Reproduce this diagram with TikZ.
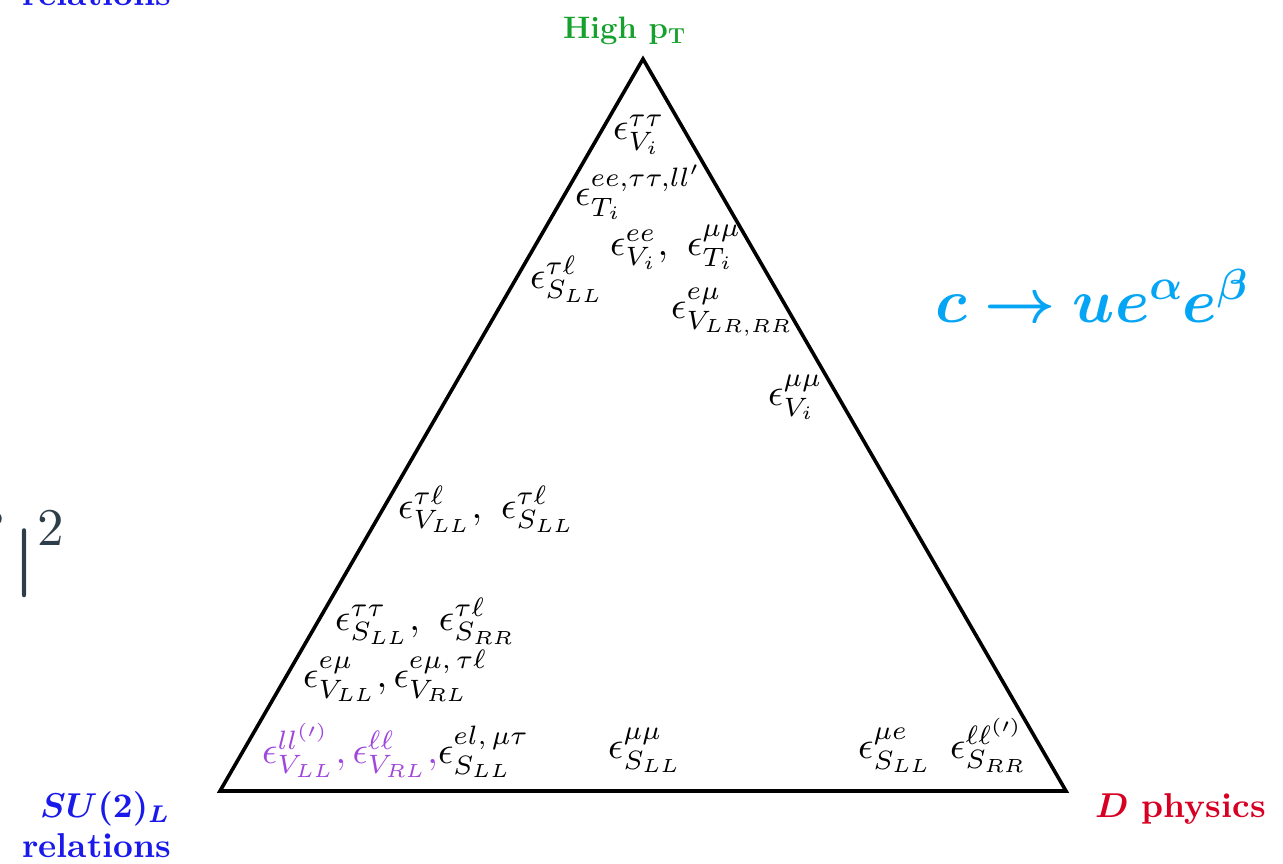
\RequirePackage{fix-cm}
\documentclass[tikz,border=0pt]{standalone}
\usepackage{amsmath,bm}
\definecolor{hgreen}{RGB}{22,160,45}
\definecolor{sublue}{RGB}{25,25,235}
\definecolor{dred}{RGB}{215,0,35}
\definecolor{cblue}{RGB}{5,165,245}
\definecolor{lpurple}{RGB}{160,70,220}
\definecolor{slate}{RGB}{45,62,72}
\newcommand{\lbx}[1]{\scalebox{3.8}{#1}}
\newcommand{\cbx}[1]{\scalebox{3.45}{#1}}
\tikzset{
  lab/.style={inner sep=0pt, anchor=base west},
  tri/.style={line width=3.6pt, line join=miter, draw=black},
  corner/.style={inner sep=0pt, font=\bfseries},
  frag/.style={inner sep=0pt, text=slate},
}
\begin{document}
\begin{tikzpicture}[x=1pt,y=-1pt]
\useasboundingbox (0,0) rectangle (1283,864);
\clip (0,0) rectangle (1283,864);
% triangle
\coordinate (T) at (643,59);
\coordinate (L) at (220,791);
\coordinate (R) at (1066,791);
\draw[tri] (T) -- (L) -- (R) -- cycle;
% corner labels
\node[corner, text=hgreen, anchor=base west, font=\fontsize{31}{36}\selectfont\bfseries] (hp) at (563,39) {High $\mathbf{p_T}$};
\node[corner, text=sublue, anchor=base west] (su) at (40,817) {\cbx{$\bm{SU(2)_L}$}};
\node[corner, text=sublue, anchor=base west] (rel) at (22,857) {\cbx{relations}};
\node[corner, text=sublue, anchor=base west] (relt) at (22,6) {\cbx{relations}};
\node[corner, text=dred, anchor=base east] (dp) at (1266,817) {\cbx{$\bm{D}$ physics}};
\node[inner sep=0pt, anchor=base west, text=cblue, font=\fontsize{62}{70}\selectfont] (proc) at (935,322) {$\bm{c\rightarrow u e^{\alpha} e^{\beta}}$};
% clipped fragment at the left edge
\node[frag, anchor=base west] (absbar) at (13,580) {\scalebox{6.9}{$\bm{|}$}};
\node[frag, anchor=north west] (abstwo) at (37,511) {\scalebox{5.3}{$2$}};
\node[frag, anchor=north east] (absb) at (5,513) {\scalebox{5.0}{$\beta$}};
% coefficient labels
\node[lab] (a1) at (613,140) {\lbx{$\epsilon^{\tau\tau}_{V_i}$}};
\node[lab] (a2) at (575,205) {\lbx{$\epsilon^{ee,\tau\tau,ll'}_{T_i}$}};
\node[lab] (a3) at (610,255) {\lbx{$\epsilon^{ee}_{V_i},\ \epsilon^{\mu\mu}_{T_i}$}};
\node[lab] (a4) at (530,288) {\lbx{$\epsilon^{\tau\ell}_{S_{LL}}$}};
\node[lab] (a5) at (671,318) {\lbx{$\epsilon^{e\mu}_{V_{LR,RR}}$}};
\node[lab] (a6) at (768,405) {\lbx{$\epsilon^{\mu\mu}_{V_i}$}};
\node[lab] (a7) at (398,518) {\lbx{$\epsilon^{\tau\ell}_{V_{LL}},\ \epsilon^{\tau\ell}_{S_{LL}}$}};
\node[lab] (a8) at (335,630) {\lbx{$\epsilon^{\tau\tau}_{S_{LL}},\ \epsilon^{\tau\ell}_{S_{RR}}$}};
\node[lab] (a9) at (303,687) {\lbx{$\epsilon^{e\mu}_{V_{LL}},\epsilon^{e\mu,\,\tau\ell}_{V_{RL}}$}};
\node[lab] (a10) at (262,763) {\lbx{\textcolor{lpurple}{$\epsilon^{ll^{(\prime)}}_{V_{LL}},\epsilon^{\ell\ell}_{V_{RL}},$}$\epsilon^{el,\,\mu\tau}_{S_{LL}}$}};
\node[lab] (a11) at (608,758) {\lbx{$\epsilon^{\mu\mu}_{S_{LL}}$}};
\node[lab] (a12) at (858,758) {\lbx{$\epsilon^{\mu e}_{S_{LL}}$}};
\node[lab] (a13) at (950,758) {\lbx{$\epsilon^{\ell\ell^{(\prime)}}_{S_{RR}}$}};
\end{tikzpicture}
\end{document}
